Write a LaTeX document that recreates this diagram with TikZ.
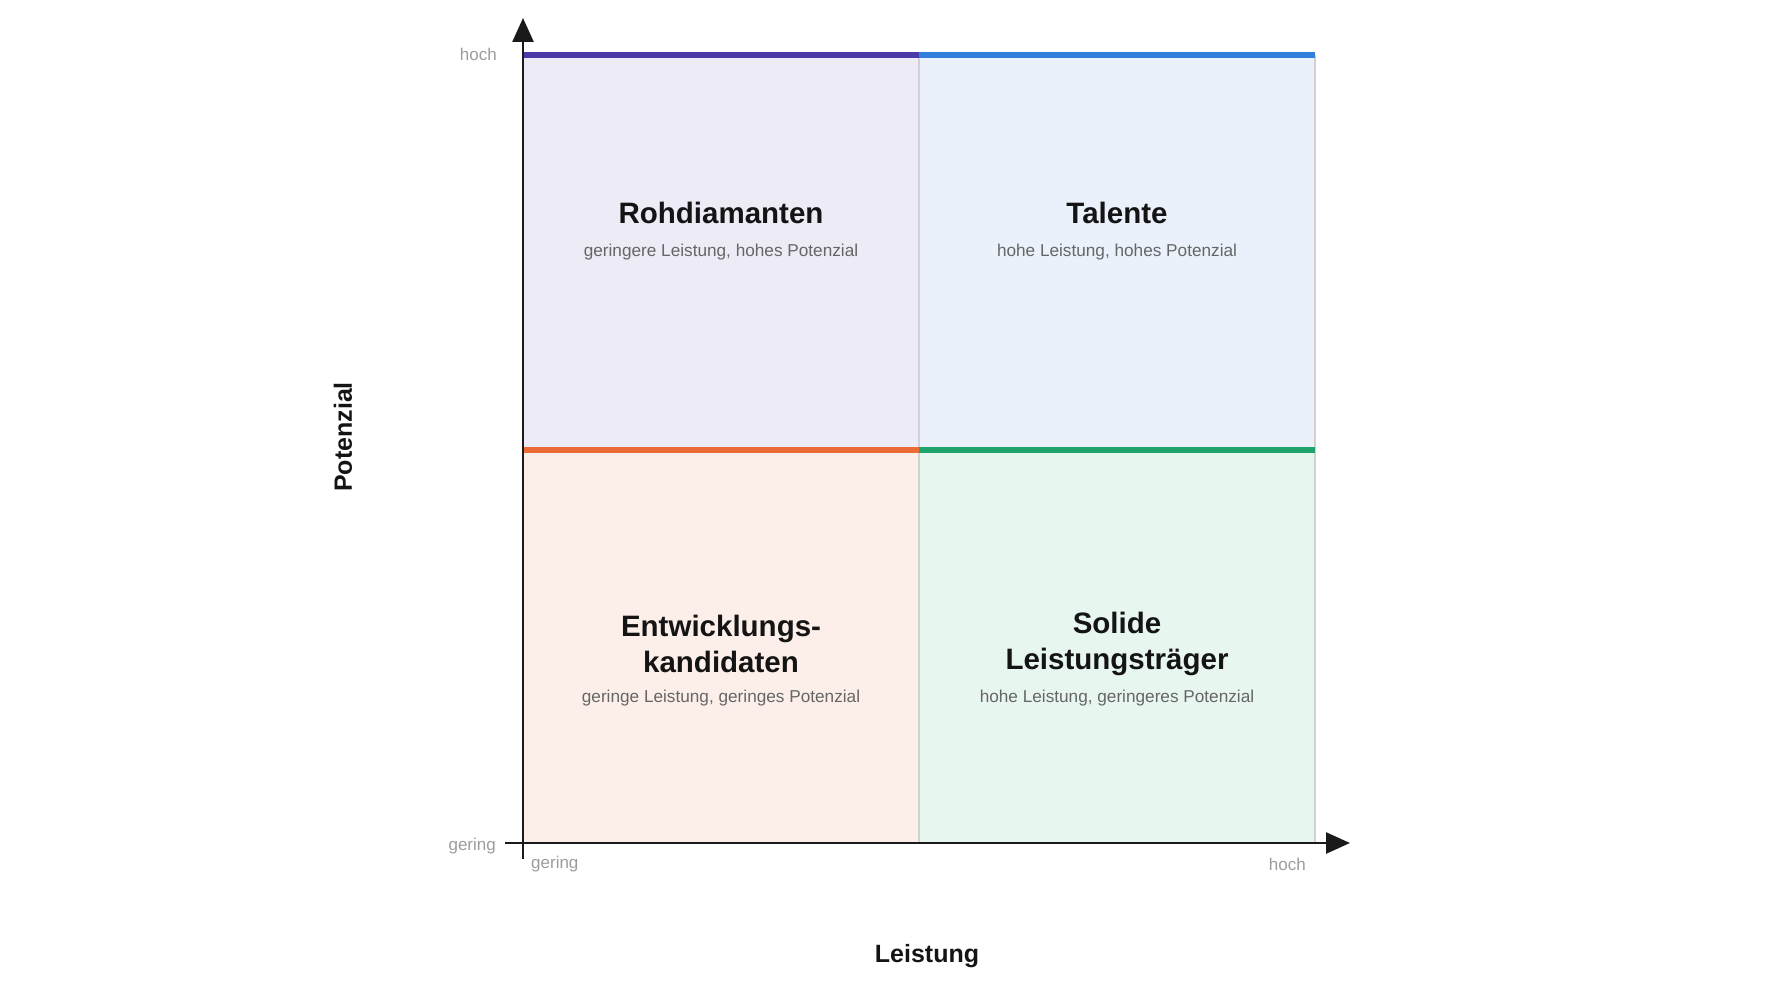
\documentclass[tikz,border=0pt]{standalone}
\usepackage{fontspec}
\setmainfont{Liberation Sans}
\usetikzlibrary{arrows.meta}
\definecolor{qpurple}{HTML}{EDEBF5}
\definecolor{qblue}{HTML}{EAF1FB}
\definecolor{qorange}{HTML}{FCEFEA}
\definecolor{qgreen}{HTML}{E8F6F0}
\definecolor{lpurple}{HTML}{4A3AA8}
\definecolor{lblue}{HTML}{3380DC}
\definecolor{lorange}{HTML}{EC6A35}
\definecolor{lgreen}{HTML}{1FA36C}
\definecolor{axiscol}{HTML}{1A1A1A}
\definecolor{ticklab}{HTML}{9C9C9C}
\definecolor{subcol}{HTML}{666666}
\tikzset{
  quadtitle/.style={font=\fontsize{29.5}{36}\selectfont\bfseries, text=black!92, align=center, inner sep=0pt},
  quadsub/.style={font=\fontsize{17.2}{20}\selectfont, text=subcol, inner sep=0pt},
  ticklabel/.style={font=\fontsize{17}{20}\selectfont, text=ticklab, inner sep=0pt},
  axislabel/.style={font=\fontsize{25}{30}\selectfont\bfseries, text=black!92, inner sep=0pt},
  divider/.style={draw=black!18, line width=1.5pt},
  bandline/.style={line width=6pt},
  axisline/.style={draw=axiscol, line width=2.6pt, -{Triangle[length=24pt,width=21pt]}}
}
\begin{document}
\begin{tikzpicture}[x=1pt,y=-1pt]
\useasboundingbox (0,0) rectangle (1776,1000);
% fills
\fill[qpurple] (523,55) rectangle (919,450);
\fill[qblue] (919,55) rectangle (1315,450);
\fill[qorange] (523,450) rectangle (919,843);
\fill[qgreen] (919,450) rectangle (1315,843);
% dividers
\draw[divider] (919,55) -- (919,843);
\draw[divider] (1315,55) -- (1315,843);
% colored bands
\draw[bandline, lpurple] (523,55) -- (919,55);
\draw[bandline, lblue] (919,55) -- (1315,55);
\draw[bandline, lorange] (523,450) -- (919,450);
\draw[bandline, lgreen] (919,450) -- (1315,450);
% axes
\coordinate (ystart) at (523,859);
\coordinate (yend) at (523,18);
\coordinate (xstart) at (505,843);
\coordinate (xend) at (1350,843);
\draw[axisline] (ystart) -- (yend);
\draw[axisline] (xstart) -- (xend);
% tick labels
\node[ticklabel, anchor=east] (yhigh) at (497,54) {hoch};
\node[ticklabel, anchor=east] (ylow) at (496,846) {gering};
\node[ticklabel, anchor=west] (xlow) at (531,864) {gering};
\node[ticklabel, anchor=east] (xhigh) at (1306,864) {hoch};
% axis labels
\node[axislabel, rotate=90] (ylab) at (343,437) {Potenzial};
\node[axislabel] (xlab) at (927,956) {Leistung};
% quadrant texts
\node[quadtitle] (t1) at (721,213) {Rohdiamanten};
\node[quadsub] (s1) at (721,252) {geringere Leistung, hohes Potenzial};
\node[quadtitle] (t2) at (1117,213) {Talente};
\node[quadsub] (s2) at (1117,252) {hohe Leistung, hohes Potenzial};
\node[quadtitle] (t3) at (721,644) {Entwicklungs-\\kandidaten};
\node[quadsub] (s3) at (721,698) {geringe Leistung, geringes Potenzial};
\node[quadtitle] (t4) at (1117,644) {Solide\\Leistungsträger};
\node[quadsub] (s4) at (1117,698) {hohe Leistung, geringeres Potenzial};
\end{tikzpicture}
\end{document}
